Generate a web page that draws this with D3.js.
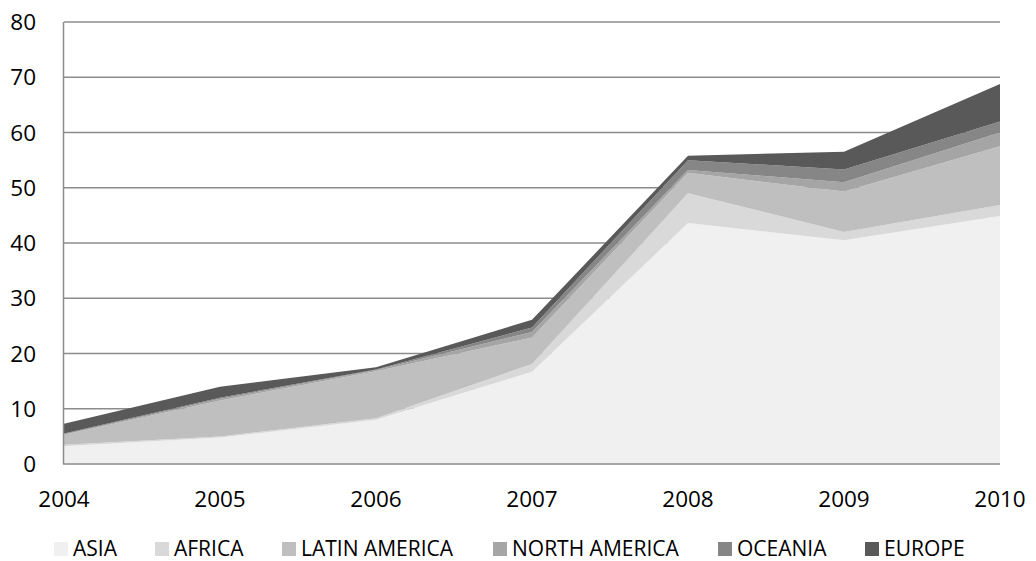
<!DOCTYPE html>
<html>
<head>
<meta charset="utf-8">
<script src="https://cdn.jsdelivr.net/npm/d3@7"></script>
<style>
  html, body { margin: 0; padding: 0; background: #fff; }
  svg { display: block; font-family: "Open Sans", "Noto Sans", sans-serif; }
</style>
</head>
<body>
<svg id="chart" width="1036" height="561"></svg>
<script>
// Years on the horizontal axis
const years = [2004, 2005, 2006, 2007, 2008, 2009, 2010];

// Regions, stacked bottom to top
const regions = ["ASIA", "AFRICA", "LATIN AMERICA", "NORTH AMERICA", "OCEANIA", "EUROPE"];

// Values per region for each year
const asia         = [3.2, 4.8, 8.0, 16.7, 43.6, 40.5, 44.9];
const africa       = [0.3, 0.2, 0.3, 1.4, 5.4, 1.5, 2.0];
const latinAmerica = [1.8, 6.5, 8.5, 4.8, 3.7, 7.3, 10.6];
const northAmerica = [0.1, 0.3, 0.2, 1.0, 0.5, 1.7, 2.5];
const oceania      = [0.1, 0.2, 0.1, 0.8, 1.8, 2.3, 2.0];
const europe       = [1.8, 2.0, 0.4, 1.4, 0.8, 3.2, 6.8];

// Y axis ticks
const yTicks = [0, 10, 20, 30, 40, 50, 60, 70, 80];

const colors = ["#f0f0f0", "#d9d9d9", "#bfbfbf", "#a5a5a5", "#868686", "#595959"];

const seriesValues = [asia, africa, latinAmerica, northAmerica, oceania, europe];
const rows = years.map((yr, i) => {
  const r = { year: yr };
  regions.forEach((name, k) => { r[name] = seriesValues[k][i]; });
  return r;
});

const svg = d3.select("#chart");
const plotLeft = 64, plotRight = 1000, plotTop = 22, plotBottom = 464;

const x = d3.scaleLinear().domain([2004, 2010]).range([plotLeft, plotRight]);
const y = d3.scaleLinear().domain([0, 80]).range([plotBottom, plotTop]);

// Horizontal gridlines
svg.append("g")
  .selectAll("line")
  .data(yTicks.filter(t => t > 0))
  .join("line")
  .attr("x1", plotLeft).attr("x2", plotRight)
  .attr("y1", d => y(d)).attr("y2", d => y(d))
  .attr("stroke", "#8c8c8c")
  .attr("stroke-width", 1.5);

// Stacked areas
const layers = d3.stack().keys(regions)(rows);
const area = d3.area()
  .x(d => x(d.data.year))
  .y0(d => y(d[0]))
  .y1(d => y(d[1]));

svg.append("g")
  .selectAll("path")
  .data(layers)
  .join("path")
  .attr("d", area)
  .attr("fill", (d, i) => colors[i]);

// Axis lines
svg.append("line")
  .attr("x1", plotLeft - 0.5).attr("x2", plotLeft - 0.5)
  .attr("y1", plotTop).attr("y2", plotBottom)
  .attr("stroke", "#8c8c8c").attr("stroke-width", 1.5);
svg.append("line")
  .attr("x1", plotLeft - 1).attr("x2", plotRight)
  .attr("y1", plotBottom).attr("y2", plotBottom)
  .attr("stroke", "#8c8c8c").attr("stroke-width", 1.5);

// Y tick labels
svg.append("g")
  .selectAll("text")
  .data(yTicks)
  .join("text")
  .attr("x", 36)
  .attr("y", d => y(d))
  .attr("dy", "0.36em")
  .attr("text-anchor", "end")
  .attr("font-size", 22.5)
  .attr("fill", "#000")
  .text(d => d);

// X tick labels
svg.append("g")
  .selectAll("text")
  .data(years)
  .join("text")
  .attr("x", d => x(d))
  .attr("y", 507)
  .attr("text-anchor", "middle")
  .attr("font-size", 22.5)
  .attr("fill", "#000")
  .text(d => d);

// Legend
const legendX = [54, 155, 282, 493, 718, 865];
const legend = svg.append("g")
  .selectAll("g")
  .data(regions)
  .join("g")
  .attr("transform", (d, i) => `translate(${legendX[i]},0)`);
legend.append("rect")
  .attr("x", 0).attr("y", 542)
  .attr("width", 14).attr("height", 14)
  .attr("fill", (d, i) => colors[i]);
legend.append("text")
  .attr("x", 19).attr("y", 556)
  .attr("font-size", 21)
  .attr("fill", "#000")
  .text(d => d);
</script>
</body>
</html>
